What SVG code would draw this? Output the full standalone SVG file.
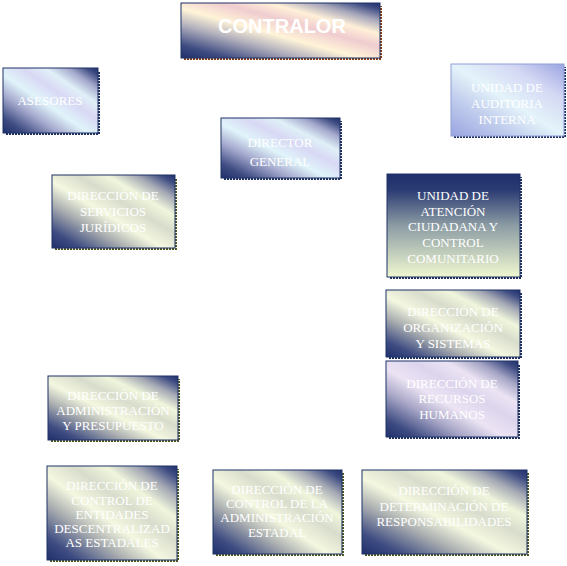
<svg xmlns="http://www.w3.org/2000/svg" width="567" height="566" viewBox="0 0 567 566">
<style>
.t{font-family:"Liberation Serif","Times New Roman",serif;font-size:13px;fill:#fff;text-anchor:middle}
.b{stroke:#1f3366;stroke-width:1}
.sh{fill:none;stroke-width:2;stroke-dasharray:2 1}
.nv{stroke:#1f2f5e}
.ol{stroke:#4f5a1e}
.br{stroke:#8a3d10}
.cn{fill:none;stroke:#fff;stroke-width:1}
</style>
<defs>
<linearGradient id="gPink" x1="0" y1="1" x2="1" y2="0">
<stop offset="0" stop-color="#1f2f6a"/><stop offset="0.12" stop-color="#3e4c82"/><stop offset="0.3" stop-color="#b0aebc"/><stop offset="0.45" stop-color="#fff4d8"/><stop offset="0.6" stop-color="#f0ccd0"/><stop offset="0.72" stop-color="#fff0d8"/><stop offset="0.84" stop-color="#a4a4ba"/><stop offset="0.94" stop-color="#3e4c82"/><stop offset="1" stop-color="#1f2f6a"/>
</linearGradient>
<linearGradient id="gCyan" x1="0" y1="1" x2="1" y2="0">
<stop offset="0" stop-color="#1f2f6a"/><stop offset="0.12" stop-color="#3e4c82"/><stop offset="0.3" stop-color="#a8acd0"/><stop offset="0.45" stop-color="#e0f4fa"/><stop offset="0.6" stop-color="#d8d8f4"/><stop offset="0.72" stop-color="#e0f0f8"/><stop offset="0.84" stop-color="#a4a8cc"/><stop offset="0.94" stop-color="#3e4c82"/><stop offset="1" stop-color="#1f2f6a"/>
</linearGradient>
<linearGradient id="gBlue" x1="0" y1="1" x2="1" y2="0">
<stop offset="0" stop-color="#9aa4e0"/><stop offset="0.3" stop-color="#c4d0ee"/><stop offset="0.5" stop-color="#e4f4fa"/><stop offset="0.75" stop-color="#d4d8f4"/><stop offset="1" stop-color="#9aa4e0"/>
</linearGradient>
<linearGradient id="gGreen" x1="0" y1="1" x2="1" y2="0">
<stop offset="0" stop-color="#1f2f6a"/><stop offset="0.12" stop-color="#3e4c82"/><stop offset="0.3" stop-color="#aaaeb0"/><stop offset="0.45" stop-color="#f4f8e0"/><stop offset="0.6" stop-color="#d8dccc"/><stop offset="0.72" stop-color="#f0f6dc"/><stop offset="0.84" stop-color="#a4a8b4"/><stop offset="0.94" stop-color="#3e4c82"/><stop offset="1" stop-color="#1f2f6a"/>
</linearGradient>
<linearGradient id="gLav" x1="0" y1="1" x2="1" y2="0">
<stop offset="0" stop-color="#1f2f6a"/><stop offset="0.12" stop-color="#3e4c82"/><stop offset="0.3" stop-color="#aaa8c8"/><stop offset="0.45" stop-color="#ece4f4"/><stop offset="0.6" stop-color="#dcd4ec"/><stop offset="0.72" stop-color="#ece4f4"/><stop offset="0.84" stop-color="#a4a4c4"/><stop offset="0.94" stop-color="#3e4c82"/><stop offset="1" stop-color="#1f2f6a"/>
</linearGradient>
<linearGradient id="gVert" x1="0" y1="0" x2="0" y2="1">
<stop offset="0" stop-color="#1f2f6a"/><stop offset="0.15" stop-color="#2a3a72"/><stop offset="0.5" stop-color="#8c9ca4"/><stop offset="1" stop-color="#f0f8d0"/>
</linearGradient>
</defs>

<g id="connectors">
<path class="cn" d="M280 58V118M280 178V470M178 408H386"/>
</g>

<g id="contralor">
<path class="sh br" d="M184 59H381V6"/>
<rect class="b" x="181" y="3" width="199" height="55" fill="url(#gPink)"/>
<text x="282" y="33" style="font-family:'Liberation Sans',Arial,sans-serif;font-size:20px;font-weight:bold;fill:#fff;text-anchor:middle">CONTRALOR</text>
</g>

<g id="asesores">
<path class="sh nv" d="M6 134H99V71"/>
<rect class="b" x="3" y="68" width="95" height="65" fill="url(#gCyan)"/>
<text class="t" x="50" y="105">ASESORES</text>
</g>

<g id="auditoria">
<path class="sh nv" d="M454 137H565V67"/>
<rect x="451" y="64" width="113" height="72" fill="url(#gBlue)" stroke="#8fa0d8" stroke-width="1"/>
<text class="t" x="507" y="92">UNIDAD DE</text>
<text class="t" x="507" y="108">AUDITORIA</text>
<text class="t" x="507" y="124">INTERNA</text>
</g>

<g id="director">
<path class="sh nv" d="M224 179H341V121"/>
<rect class="b" x="221" y="118" width="119" height="60" fill="url(#gCyan)"/>
<text class="t" x="280" y="147">DIRECTOR</text>
<text class="t" x="280" y="166">GENERAL</text>
</g>

<g id="juridicos">
<path class="sh ol" d="M55 249H176V178"/>
<rect class="b" x="52" y="175" width="123" height="73" fill="url(#gGreen)"/>
<text class="t" x="113" y="200">DIRECCIÓN DE</text>
<text class="t" x="113" y="216">SERVICIOS</text>
<text class="t" x="113" y="232">JURÍDICOS</text>
</g>

<g id="atencion">
<path class="sh nv" d="M390 278H521V177"/>
<rect class="b" x="387" y="174" width="133" height="103" fill="url(#gVert)"/>
<text class="t" x="453" y="200">UNIDAD DE</text>
<text class="t" x="453" y="216">ATENCIÓN</text>
<text class="t" x="453" y="231">CIUDADANA Y</text>
<text class="t" x="453" y="247">CONTROL</text>
<text class="t" x="453" y="263">COMUNITARIO</text>
</g>

<g id="organizacion">
<path class="sh nv" d="M389 358H521V293"/>
<rect class="b" x="386" y="290" width="134" height="67" fill="url(#gGreen)"/>
<text class="t" x="453" y="316">DIRECCIÓN DE</text>
<text class="t" x="453" y="332">ORGANIZACIÓN</text>
<text class="t" x="453" y="348">Y SISTEMAS</text>
</g>

<g id="rrhh">
<path class="sh nv" d="M389 438H519V364"/>
<rect class="b" x="386" y="361" width="132" height="76" fill="url(#gLav)"/>
<text class="t" x="452" y="388">DIRECCIÓN DE</text>
<text class="t" x="452" y="403">RECURSOS</text>
<text class="t" x="452" y="419">HUMANOS</text>
</g>

<g id="administracion">
<path class="sh ol" d="M51 441H179V379"/>
<rect class="b" x="48" y="376" width="130" height="64" fill="url(#gGreen)"/>
<text class="t" x="113" y="400">DIRECCIÓN DE</text>
<text class="t" x="113" y="415">ADMINISTRACIÓN</text>
<text class="t" x="113" y="430">Y PRESUPUESTO</text>
</g>

<g id="entidades">
<path class="sh ol" d="M50 561H178V469"/>
<rect class="b" x="47" y="466" width="130" height="94" fill="url(#gGreen)"/>
<text class="t" x="112" y="490">DIRECCIÓN DE</text>
<text class="t" x="112" y="505">CONTROL DE</text>
<text class="t" x="112" y="519">ENTIDADES</text>
<text class="t" x="112" y="533">DESCENTRALIZAD</text>
<text class="t" x="112" y="547">AS ESTADALES</text>
</g>

<g id="control-admin">
<path class="sh ol" d="M216 555H343V473"/>
<rect class="b" x="213" y="470" width="129" height="84" fill="url(#gGreen)"/>
<text class="t" x="277" y="494">DIRECCIÓN DE</text>
<text class="t" x="277" y="508">CONTROL DE LA</text>
<text class="t" x="277" y="522">ADMINISTRACIÓN</text>
<text class="t" x="277" y="537">ESTADAL</text>
</g>

<g id="responsabilidades">
<path class="sh ol" d="M365 555H528V473"/>
<rect class="b" x="362" y="470" width="165" height="84" fill="url(#gGreen)"/>
<text class="t" x="444" y="495">DIRECCIÓN DE</text>
<text class="t" x="444" y="511">DETERMINACIÓN DE</text>
<text class="t" x="444" y="526">RESPONSABILIDADES</text>
</g>
</svg>
